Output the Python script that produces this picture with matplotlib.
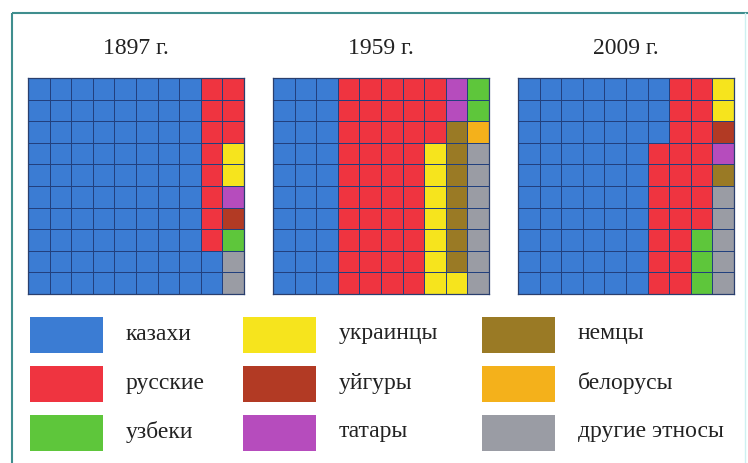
import numpy as np
import matplotlib
matplotlib.use("Agg")
import matplotlib.pyplot as plt
from matplotlib.colors import ListedColormap
from matplotlib.patches import Rectangle

plt.rcParams['font.family'] = ['Liberation Serif', 'DejaVu Serif']

years = ["1897 г.", "1959 г.", "2009 г."]
categories = ["казахи", "русские", "узбеки", "украинцы", "уйгуры", "татары",
              "немцы", "белорусы", "другие этносы"]
colors = ["#3b7cd3", "#ef3440", "#5ec63b", "#f6e41d", "#b23a24", "#b64cbd",
          "#9a7a25", "#f4b11b", "#9a9ca4"]

# each grid: 10 columns, each column = list of (category index, cells) from top to bottom
grid_1897 = [
    [(0, 10)], [(0, 10)], [(0, 10)], [(0, 10)], [(0, 10)], [(0, 10)], [(0, 10)], [(0, 10)],
    [(1, 8), (0, 2)],
    [(1, 3), (3, 2), (5, 1), (4, 1), (2, 1), (8, 2)],
]
grid_1959 = [
    [(0, 10)], [(0, 10)], [(0, 10)],
    [(1, 10)], [(1, 10)], [(1, 10)], [(1, 10)],
    [(1, 3), (3, 7)],
    [(5, 2), (6, 7), (3, 1)],
    [(2, 2), (7, 1), (8, 7)],
]
grid_2009 = [
    [(0, 10)], [(0, 10)], [(0, 10)], [(0, 10)], [(0, 10)], [(0, 10)],
    [(0, 3), (1, 7)],
    [(1, 10)],
    [(1, 7), (2, 3)],
    [(3, 2), (4, 1), (5, 1), (6, 1), (8, 5)],
]
grids = [grid_1897, grid_1959, grid_2009]

W, H = 748, 463
fig = plt.figure(figsize=(W / 100, H / 100), dpi=100)
fig.patch.set_facecolor("white")

# overlay axes in pixel coordinates for frame, titles and legend
ov = fig.add_axes([0, 0, 1, 1])
ov.set_xlim(0, W)
ov.set_ylim(H, 0)
ov.axis("off")
ov.plot([12, 12], [13, H], color="#3f8e8e", lw=1.5, solid_capstyle="butt")
ov.plot([12, W], [13, 13], color="#3f8e8e", lw=1.5, solid_capstyle="butt")
ov.plot([745, 745], [13, H], color="#cdf1f1", lw=1.0)

cmap = ListedColormap(colors)
grid_lefts = [28, 273, 518]
gtop, gsize = 78, 216
for gi, grid in enumerate(grids):
    mat = np.zeros((10, 10), dtype=int)
    for c, col in enumerate(grid):
        r = 0
        for cat, n in col:
            mat[r:r + n, c] = cat
            r += n
    ax = fig.add_axes([grid_lefts[gi] / W, 1 - (gtop + gsize) / H, gsize / W, gsize / H])
    ax.pcolormesh(np.arange(11), np.arange(11), mat, cmap=cmap, vmin=-0.5,
                  vmax=len(colors) - 0.5, edgecolors="#22407e", linewidth=0.55)
    ax.set_xlim(0, 10)
    ax.set_ylim(10, 0)
    ax.set_xticks([])
    ax.set_yticks([])
    for s in ax.spines.values():
        s.set_color("#2a3f6e")
        s.set_linewidth(0.9)
    ov.text(grid_lefts[gi] + gsize / 2, 49, years[gi], ha="center", va="center",
            fontsize=17, color="#222222")

# legend
leg_x = [30, 243, 482]
leg_y = [317, 366, 415]
order = [[0, 1, 2], [3, 4, 5], [6, 7, 8]]
for ci, col in enumerate(order):
    for ri, cat in enumerate(col):
        ov.add_patch(Rectangle((leg_x[ci], leg_y[ri]), 73, 36, facecolor=colors[cat],
                               edgecolor="none"))
        ov.text(leg_x[ci] + 96, leg_y[ri] + 17, categories[cat], ha="left", va="center",
                fontsize=17, color="#222222")

fig.savefig("out.png", dpi=100)
